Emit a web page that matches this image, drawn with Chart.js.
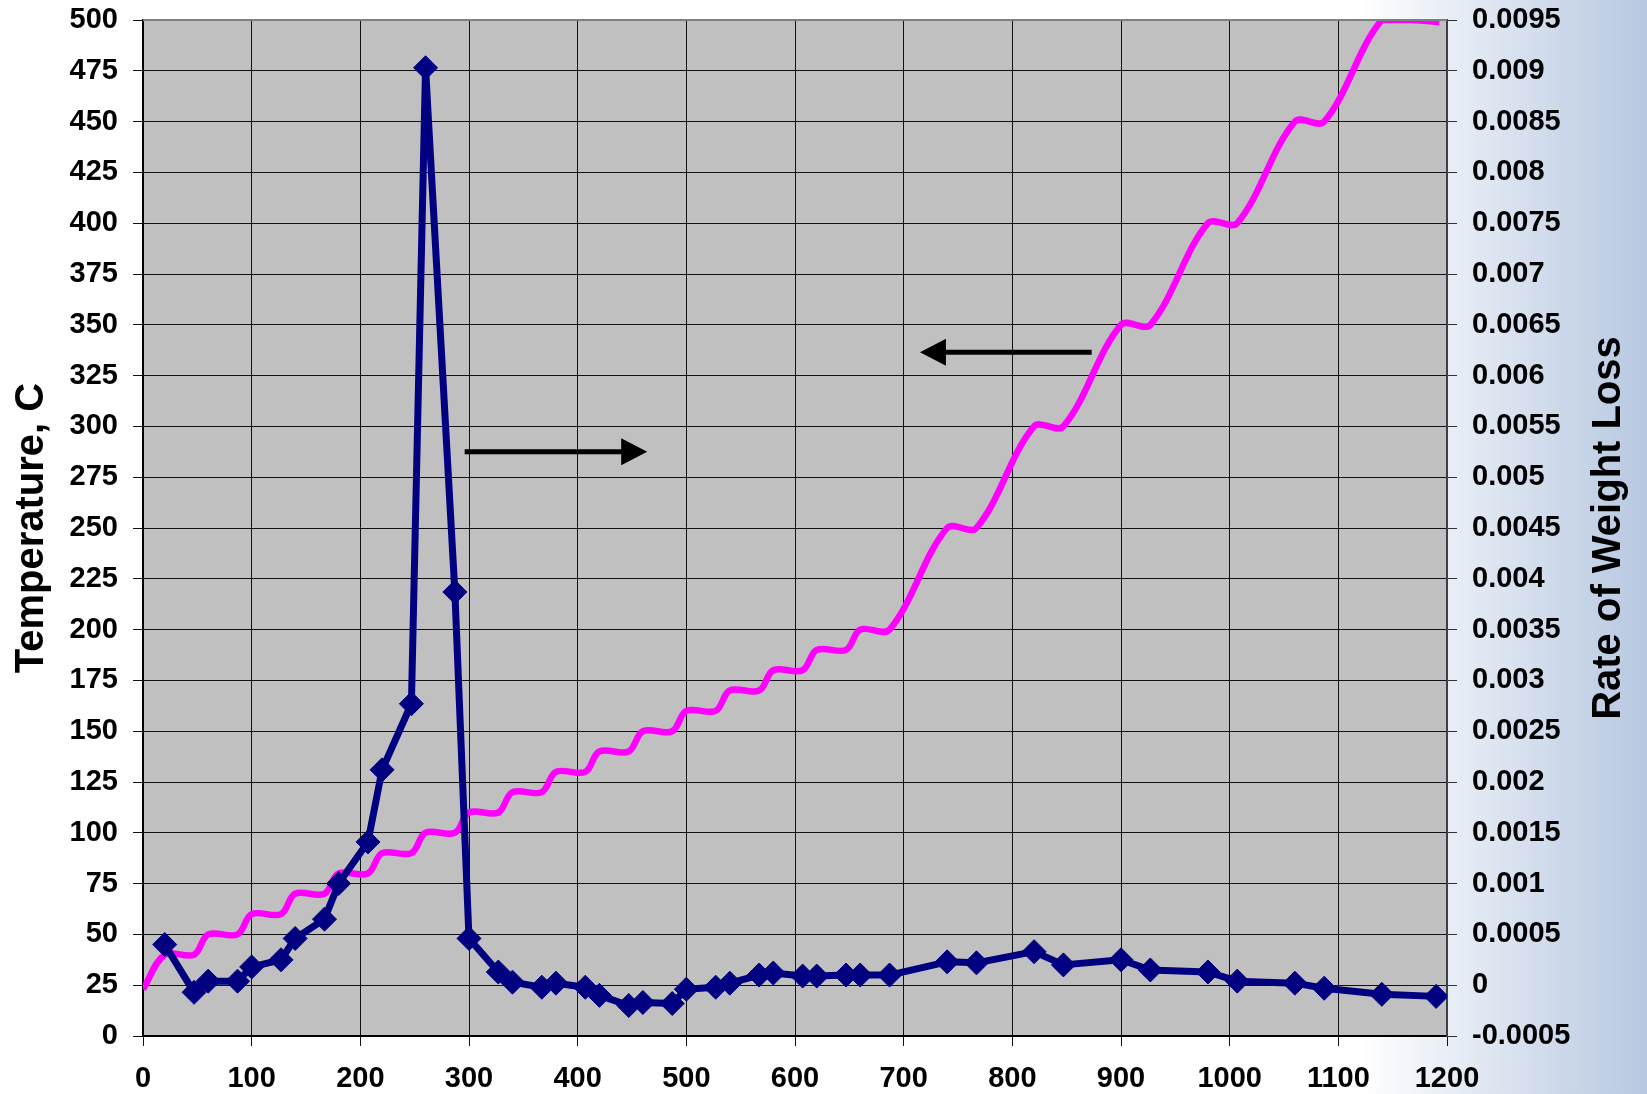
<!DOCTYPE html>
<html>
<head>
<meta charset="utf-8">
<script src="https://cdn.jsdelivr.net/npm/chart.js@4.4.0/dist/chart.umd.min.js"></script>
<style>
  html, body { margin: 0; padding: 0; background: #fff; }
  #wrap { width: 1647px; height: 1094px; }
</style>
</head>
<body>
<div id="wrap"><canvas id="chart"></canvas></div>
<script>
// axis ticks
const timeTicks = [0, 100, 200, 300, 400, 500, 600, 700, 800, 900, 1000, 1100, 1200];
const tempTicks = [0, 25, 50, 75, 100, 125, 150, 175, 200, 225, 250, 275, 300, 325, 350, 375, 400, 425, 450, 475, 500];
const rateTicks = [-0.0005, 0, 0.0005, 0.001, 0.0015, 0.002, 0.0025, 0.003, 0.0035, 0.004, 0.0045,
  0.005, 0.0055, 0.006, 0.0065, 0.007, 0.0075, 0.008, 0.0085, 0.009, 0.0095];

// temperature program (left axis)
const tempTime = [0, 20, 47, 60, 87, 100, 127, 140, 167, 180, 207, 220, 247, 260, 287, 300, 327,
  340, 367, 380, 407, 420, 447, 460, 487, 500, 527, 540, 567, 580, 607, 620, 647, 660, 687,
  740, 767, 820, 847, 900, 927, 980, 1007, 1060, 1087, 1140, 1167, 1193];
const tempValues = [23, 40, 40, 50, 50, 60, 60, 70, 70, 80, 80, 90, 90, 100, 100, 110, 110,
  120, 120, 130, 130, 140, 140, 150, 150, 160, 160, 170, 170, 180, 180, 190, 190, 200, 200,
  250, 250, 300, 300, 350, 350, 400, 400, 450, 450, 500, 500, 499];

// rate of weight loss (right axis)
const rateTime = [20, 47, 60, 87, 100, 127, 140, 167, 180, 207, 220, 247, 260, 287, 300, 327,
  340, 367, 380, 407, 420, 447, 460, 487, 500, 527, 540, 567, 580, 607, 620, 647, 660, 687,
  740, 767, 820, 847, 900, 927, 980, 1007, 1060, 1087, 1140, 1190];
const rateValues = [0.0004, -0.00007, 0.00004, 0.00004, 0.00018, 0.00025, 0.00046, 0.00065, 0.001,
  0.00141, 0.00212, 0.00277, 0.00903, 0.00387, 0.00046, 0.00013, 0.00003, -0.00002, 0.00002,
  -0.00002, -0.0001, -0.0002, -0.00017, -0.00018, -0.00004, -0.00002, 0.00002, 0.0001, 0.00012,
  0.00009, 0.00009, 0.0001, 0.0001, 0.0001, 0.00023, 0.00022, 0.00033, 0.0002, 0.00025, 0.00015,
  0.00013, 0.00004, 0.00002, -0.00003, -0.00009, -0.00011];

// arrows, in data units (time, temperature)
const arrows = [
  { from: [296, 287.5], to: [464, 287.5] },
  { from: [873, 336.5], to: [715, 336.5] }
];

const FONT = "'Liberation Sans', Arial, sans-serif";
Chart.defaults.font.family = FONT;
Chart.defaults.color = '#000';

const pairs = (xs, ys) => xs.map((x, i) => ({ x: x, y: ys[i] }));
const fmtRate = v => String(parseFloat(Number(v).toFixed(4)) || 0);

const backdrop = {
  id: 'backdrop',
  beforeDraw(chart) {
    const { ctx, width, height, chartArea: a } = chart;
    ctx.save();
    const g = ctx.createLinearGradient(1360, 0, width, 0);
    g.addColorStop(0, '#ffffff');
    g.addColorStop(1, '#b7c8e1');
    ctx.fillStyle = g;
    ctx.fillRect(0, 0, width, height);
    ctx.fillStyle = '#c0c0c0';
    ctx.fillRect(a.left, a.top, a.right - a.left, a.bottom - a.top);
    ctx.restore();
  },
  afterDatasetsDraw(chart) {
    const { ctx, scales } = chart;
    ctx.save();
    ctx.strokeStyle = '#000';
    ctx.fillStyle = '#000';
    ctx.lineWidth = 5;
    arrows.forEach(a => {
      const x1 = scales.x.getPixelForValue(a.from[0]);
      const y1 = scales.y.getPixelForValue(a.from[1]);
      const x2 = scales.x.getPixelForValue(a.to[0]);
      const y2 = scales.y.getPixelForValue(a.to[1]);
      const dir = Math.sign(x2 - x1);
      ctx.beginPath();
      ctx.moveTo(x1, y1);
      ctx.lineTo(x2 - dir * 24, y2);
      ctx.stroke();
      ctx.beginPath();
      ctx.moveTo(x2, y2);
      ctx.lineTo(x2 - dir * 26, y2 - 13.5);
      ctx.lineTo(x2 - dir * 26, y2 + 13.5);
      ctx.closePath();
      ctx.fill();
    });
    ctx.restore();
  },
  afterDraw(chart) {
    const { ctx, chartArea: a, width } = chart;
    ctx.save();
    ctx.strokeStyle = '#808080';
    ctx.lineWidth = 2;
    ctx.beginPath();
    ctx.moveTo(a.left, a.top);
    ctx.lineTo(a.right, a.top);
    ctx.stroke();
    // right axis title reads bottom to top
    ctx.translate(width - 38, (a.top + a.bottom) / 2);
    ctx.rotate(-Math.PI / 2);
    ctx.font = 'bold 40px ' + FONT;
    ctx.fillStyle = '#000';
    ctx.textAlign = 'center';
    ctx.textBaseline = 'middle';
    ctx.fillText('Rate of Weight Loss', 0, 0);
    ctx.restore();
  }
};

const tickFont = { size: 29, weight: 'bold' };
const noPadY = s => { s.paddingTop = 0; s.paddingBottom = 0; };

new Chart(document.getElementById('chart'), {
  type: 'line',
  data: {
    datasets: [
      {
        label: 'Rate of Weight Loss',
        data: pairs(rateTime, rateValues),
        yAxisID: 'y1',
        borderColor: '#000080',
        backgroundColor: '#000080',
        borderWidth: 7,
        borderJoinStyle: 'round',
        pointStyle: 'rectRot',
        pointRadius: 12,
        pointBorderWidth: 1,
        tension: 0
      },
      {
        label: 'Temperature',
        data: pairs(tempTime, tempValues),
        yAxisID: 'y',
        borderColor: '#ff00ff',
        backgroundColor: '#ff00ff',
        borderWidth: 6.5,
        pointRadius: 0,
        tension: 0.35
      }
    ]
  },
  options: {
    responsive: true,
    maintainAspectRatio: false,
    animation: false,
    devicePixelRatio: 1,
    layout: { padding: { top: 20, left: 0, right: 0, bottom: 0 } },
    plugins: { legend: { display: false }, tooltip: { enabled: false } },
    scales: {
      x: {
        type: 'linear',
        min: 0,
        max: 1200,
        afterBuildTicks: s => { s.ticks = timeTicks.map(v => ({ value: v })); },
        afterFit: s => { s.height = 58; s.paddingLeft = 0; s.paddingRight = 0; },
        grid: { color: '#111', lineWidth: 1, tickLength: 10 },
        border: { color: '#000', width: 2 },
        ticks: { font: tickFont, padding: 16, maxRotation: 0, autoSkip: false, callback: v => String(v) }
      },
      y: {
        position: 'left',
        min: 0,
        max: 500,
        afterBuildTicks: s => { s.ticks = tempTicks.map(v => ({ value: v })); },
        afterFit: s => { s.width = 143; noPadY(s); },
        grid: { color: '#111', lineWidth: 1, tickLength: 10 },
        border: { color: '#000', width: 2 },
        ticks: { font: tickFont, padding: 15, autoSkip: false, callback: v => String(v) },
        title: {
          display: true,
          text: 'Temperature, C',
          font: { size: 40, weight: 'bold' },
          padding: { top: 8, bottom: 0 }
        }
      },
      y1: {
        position: 'right',
        min: -0.0005,
        max: 0.0095,
        afterBuildTicks: s => { s.ticks = rateTicks.map(v => ({ value: v })); },
        afterFit: s => { s.width = 200; noPadY(s); },
        grid: { drawOnChartArea: false, color: '#333', tickLength: 10 },
        border: { color: '#404040', width: 2 },
        ticks: { font: tickFont, padding: 15, autoSkip: false, callback: v => fmtRate(v) }
      }
    }
  },
  plugins: [backdrop]
});
</script>
</body>
</html>
